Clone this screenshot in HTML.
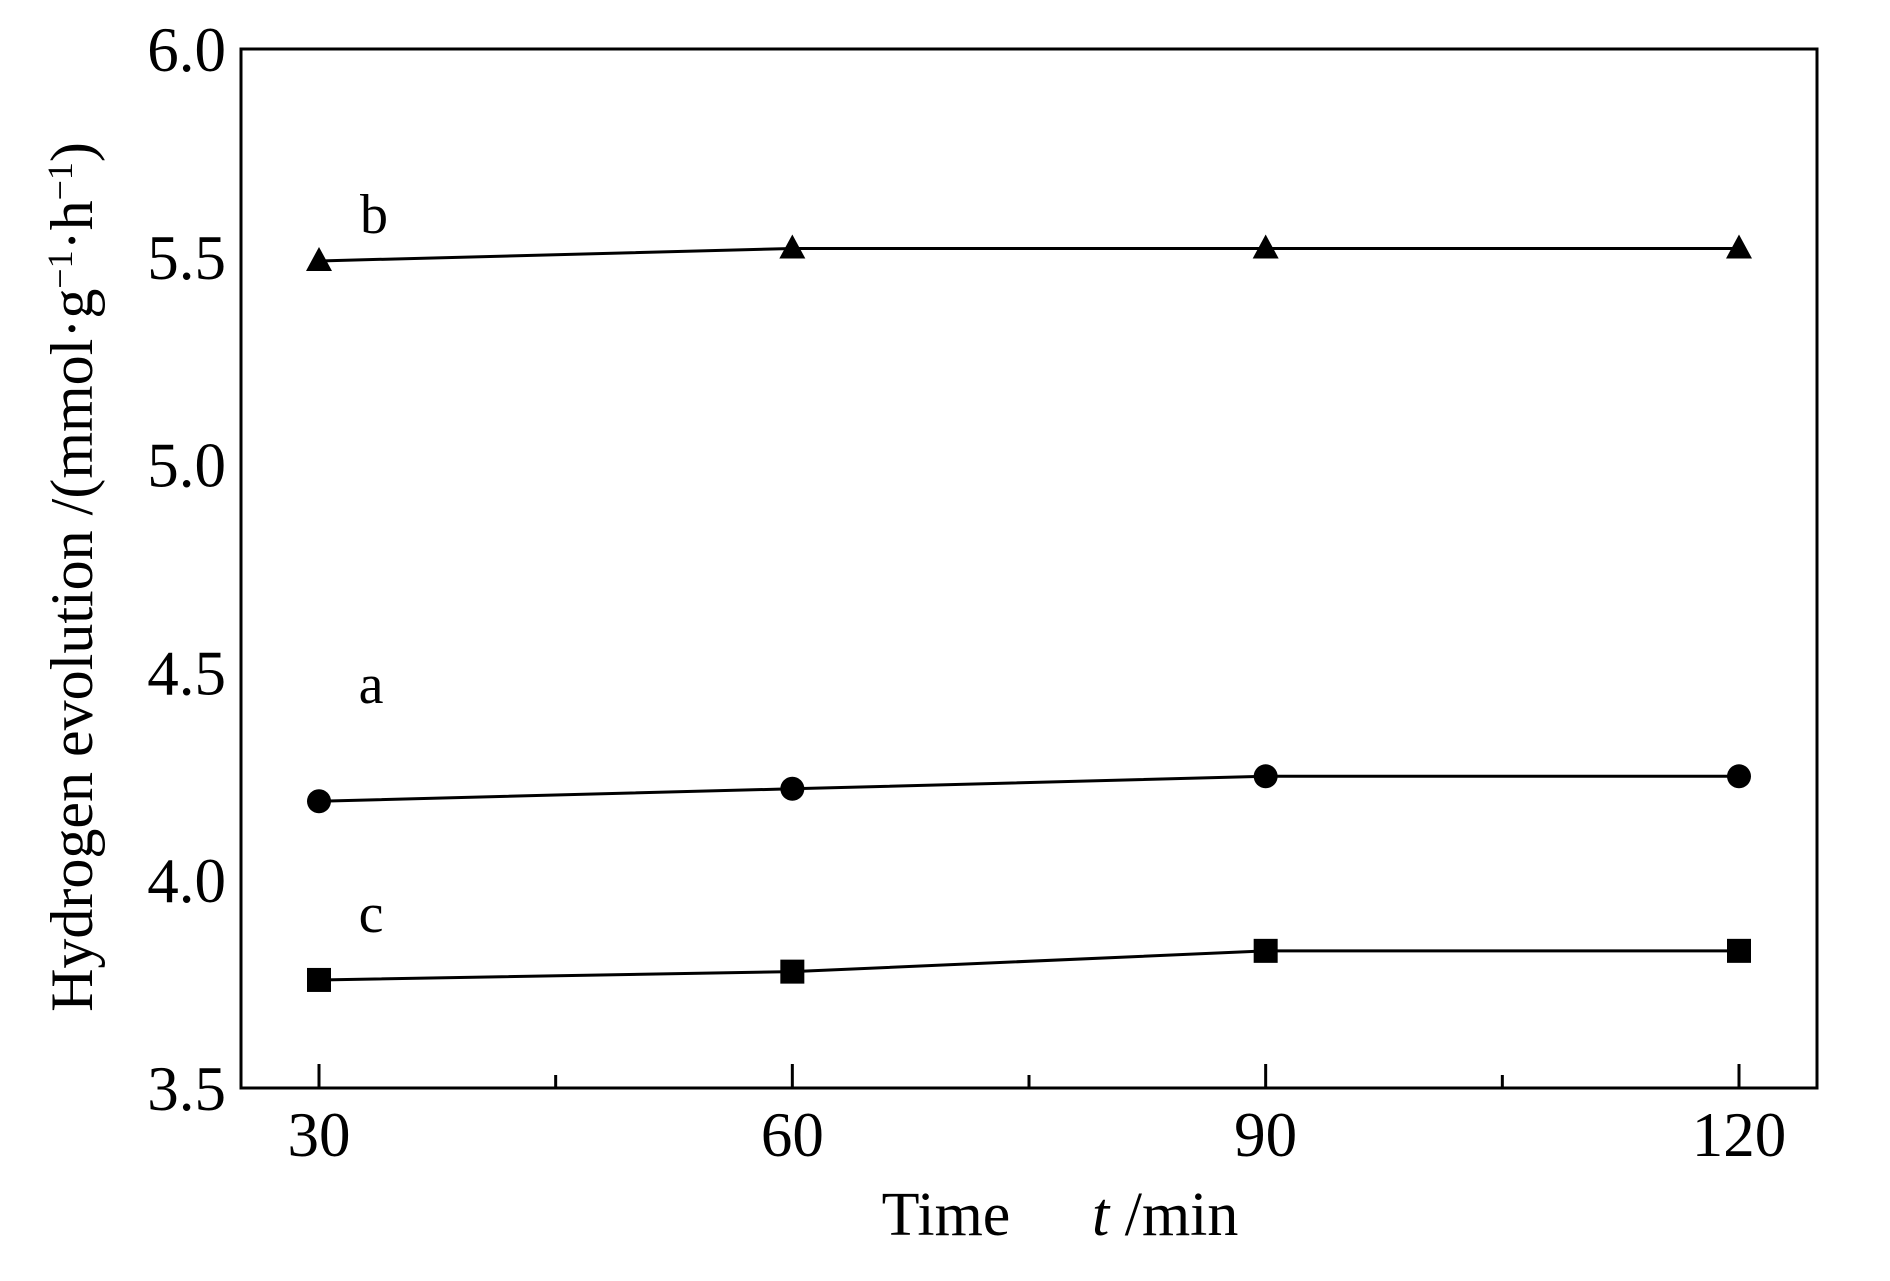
<!DOCTYPE html>
<html><head><meta charset="utf-8"><style>
body{margin:0;background:#fff;width:1890px;height:1276px;overflow:hidden}
svg text{font-family:"Liberation Serif",serif;fill:#000}
</style></head><body>
<svg id="chart" width="1890" height="1276" viewBox="0 0 1890 1276"></svg>
<script>
const xValues = [30, 60, 90, 120];
const seriesA = [4.19, 4.22, 4.25, 4.25];
const seriesB = [5.49, 5.52, 5.52, 5.52];
const seriesC = [3.76, 3.78, 3.83, 3.83];
const yTicks = [3.5, 4.0, 4.5, 5.0, 5.5, 6.0];
const xTicks = [30, 60, 90, 120];
const xMinor = [45, 75, 105];

const L=241,R=1817,T=49,B=1088;
const X=v=>319+(v-30)*(1739-319)/90;
const Y=v=>B-(v-3.5)*(B-T)/2.5;
const svg=document.getElementById('chart');
const NS='http://www.w3.org/2000/svg';
function mk(tag,attrs,parent){const e=document.createElementNS(NS,tag);for(const k in attrs)e.setAttribute(k,attrs[k]);(parent||svg).appendChild(e);return e;}

const frame=mk('rect',{x:L,y:T,width:R-L,height:B-T,fill:'none',stroke:'#000','stroke-width':3});



xTicks.forEach(v=>{
  const t=mk('line',{x1:X(v),x2:X(v),y1:B,y2:B-24,stroke:'#000','stroke-width':3});
  
  
  const l=mk('text',{x:X(v),y:1156,'font-size':63,'text-anchor':'middle'});
  l.textContent=v;
  
  
});
xMinor.forEach(v=>{
  const t=mk('line',{x1:X(v),x2:X(v),y1:B,y2:B-13,stroke:'#000','stroke-width':3});
  
  
});
yTicks.forEach(v=>{
  const l=mk('text',{x:226,y:Y(v)+22,'font-size':63,'text-anchor':'end'});
  l.textContent=v.toFixed(1);
  
  
});

function series(vals,shape,name){
  const g=mk('g',{});
  
  
  mk('polyline',{points:vals.map((v,i)=>X(xValues[i])+','+Y(v)).join(' '),fill:'none',stroke:'#000','stroke-width':3},g);
  vals.forEach((v,i)=>{
    const cx=X(xValues[i]),cy=Y(v);let m;
    if(shape==='sq')m=mk('rect',{x:cx-12,y:cy-12,width:24,height:24,fill:'#000'},g);
    else if(shape==='ci')m=mk('circle',{cx:cx,cy:cy,r:12,fill:'#000'},g);
    else m=mk('polygon',{points:`${cx},${cy-14} ${cx-13},${cy+10} ${cx+13},${cy+10}`,fill:'#000'},g);
    
    
  });
}
series(seriesA,'ci','series-a');
series(seriesB,'tr','series-b');
series(seriesC,'sq','series-c');

[['b',374,233],['a',371,703],['c',371,932]].forEach(([s,x,y])=>{
  const l=mk('text',{x:x,y:y,'font-size':56,'text-anchor':'middle'});
  l.textContent=s;
  
  
});

const xt=mk('text',{x:946,y:1235,'font-size':62,'text-anchor':'middle'});
xt.textContent='Time';


const xt2=mk('text',{x:1092,y:1235,'font-size':62});
xt2.innerHTML='<tspan font-style="italic">t</tspan> /min';



const yt=mk('text',{x:0,y:0,'font-size':60,'text-anchor':'middle',transform:'translate(92,577) rotate(-90)'});
yt.innerHTML='Hydrogen evolution /(mmol·g<tspan dy="-20" font-size="36">−1</tspan><tspan dy="20">·h</tspan><tspan dy="-20" font-size="36">−1</tspan><tspan dy="20">)</tspan>';


</script>
</body></html>
